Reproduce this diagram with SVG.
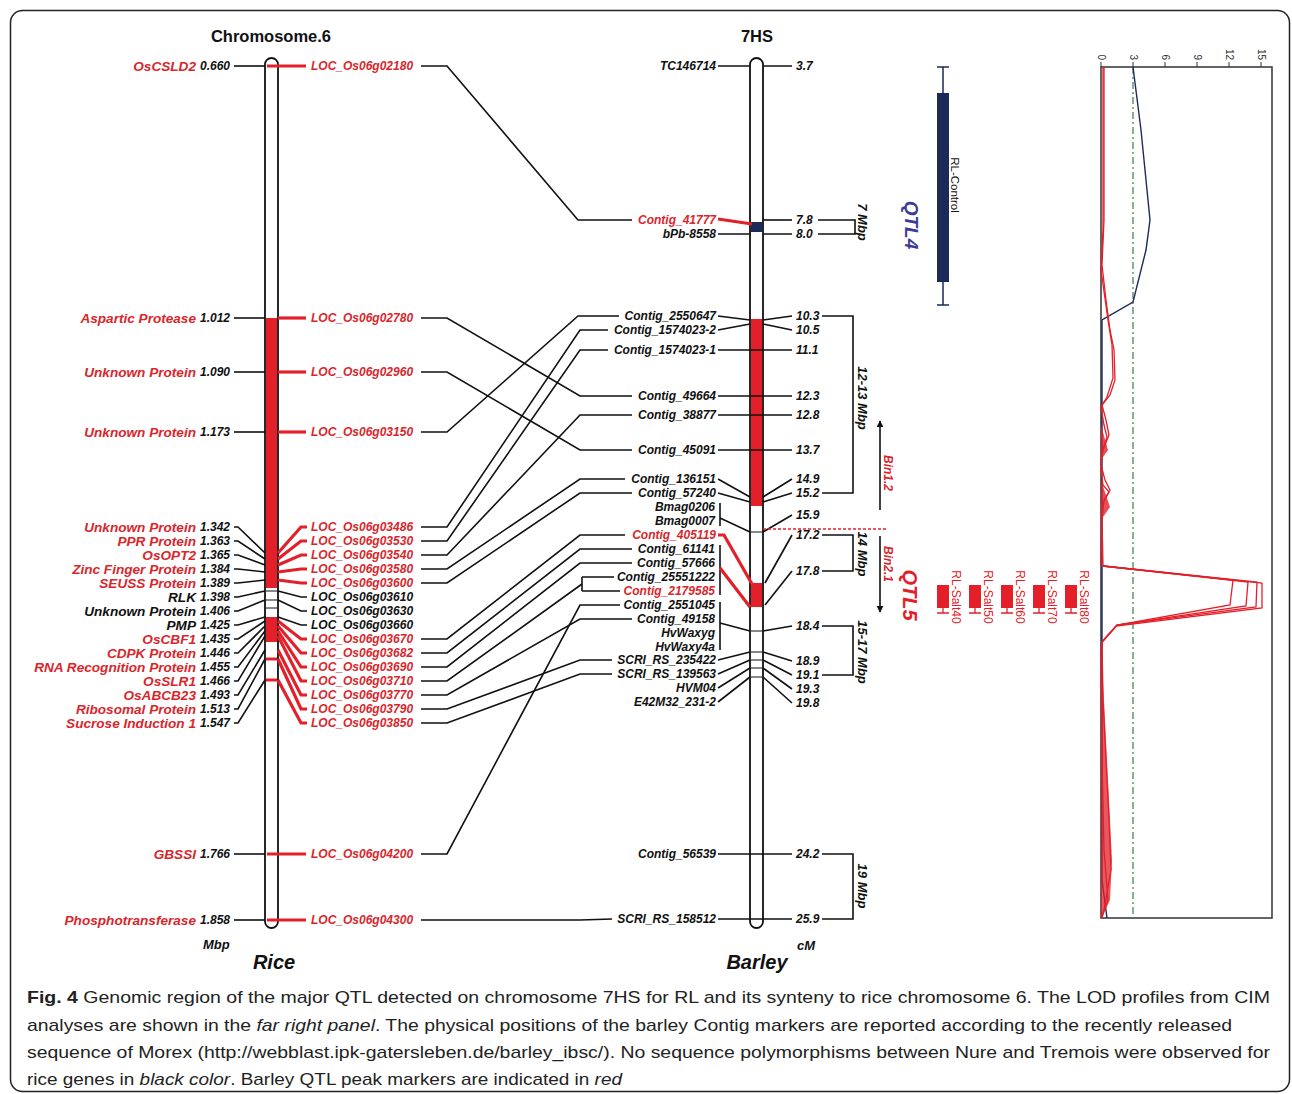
<svg xmlns="http://www.w3.org/2000/svg" width="1292" height="1094" viewBox="0 0 1292 1094">
<defs>
<style>
.t{font-family:'Liberation Sans',Arial,sans-serif;font-weight:bold;font-style:italic}
.g{font-size:13.6px}
.n{font-size:12px;fill:#111}
.lc{font-size:12px}
.r{fill:#d9262c}
.k{fill:#111}
.ln{stroke:#111;stroke-width:1.6;fill:none}
.rl{stroke:#e3202a;stroke-width:3.2;fill:none}
.rt{stroke:#e3202a;stroke-width:1.3;fill:none}
.chr{fill:#fff;stroke:#111;stroke-width:1.8}
.cap{font-family:'Liberation Sans',Arial,sans-serif;font-size:17px;fill:#222}
</style>
<marker id="ah" viewBox="0 0 10 10" refX="9" refY="5" markerWidth="7" markerHeight="9" orient="auto" markerUnits="userSpaceOnUse"><path d="M0,0 L10,5 L0,10 Z" fill="#111"/></marker>
</defs>
<rect x="0" y="0" width="1292" height="1094" fill="#fff"/>
<rect x="10.5" y="10.5" width="1279" height="1081" rx="12" fill="#fff" stroke="#222" stroke-width="1.5"/>

<g id="titles" class="t">
<text x="271" y="42" text-anchor="middle" style="font-style:normal;font-size:16.5px" class="k">Chromosome.6</text>
<text x="757" y="42" text-anchor="middle" style="font-style:normal;font-size:16.5px" class="k">7HS</text>
<text x="203" y="949" style="font-size:13px" class="k">Mbp</text>
<text x="274" y="969" text-anchor="middle" style="font-size:20px" class="k">Rice</text>
<text x="757" y="969" text-anchor="middle" style="font-size:20px" class="k">Barley</text>
<text x="797" y="950" style="font-size:13px" class="k">cM</text>
</g>

<!-- Rice chromosome -->
<g id="rice-chromosome">
<rect class="chr" x="265" y="58" width="13" height="870" rx="6.5"/>
<rect x="266" y="318" width="11" height="270" fill="#e3202a"/>
<rect x="266" y="617" width="11" height="25" fill="#e3202a"/>
<line x1="266" y1="659" x2="277" y2="659" stroke="#e3202a" stroke-width="3"/>
<line x1="266" y1="680" x2="277" y2="680" stroke="#e3202a" stroke-width="3"/>
<line x1="266" y1="591" x2="277" y2="591" stroke="#111" stroke-width="1"/>
<line x1="266" y1="600" x2="277" y2="600" stroke="#111" stroke-width="1"/>
<line x1="266" y1="608" x2="277" y2="608" stroke="#111" stroke-width="1"/>
</g>

<!-- Barley chromosome -->
<g id="barley-chromosome">
<rect class="chr" x="750" y="58" width="13" height="870" rx="6.5"/>
<rect x="751" y="222" width="11" height="10" fill="#1c2a5a"/>
<rect x="751" y="319" width="11" height="187" fill="#e3202a"/>
<rect x="751" y="583" width="11" height="24" fill="#e3202a"/>
<g stroke="#111" stroke-width="1">
<line x1="751" y1="532" x2="762" y2="532"/>
<line x1="751" y1="631" x2="762" y2="631"/>
<line x1="751" y1="652" x2="762" y2="652"/>
<line x1="751" y1="660" x2="762" y2="660"/>
<line x1="751" y1="668" x2="762" y2="668"/>
<line x1="751" y1="677" x2="762" y2="677"/>
</g>
</g>

<!-- Rice labels -->
<g id="rice-labels" class="t">
<g class="g r" text-anchor="end">
<text x="196" y="71">OsCSLD2</text>
<text x="196" y="323">Aspartic Protease</text>
<text x="196" y="377">Unknown Protein</text>
<text x="196" y="437">Unknown Protein</text>
<text x="196" y="532">Unknown Protein</text>
<text x="196" y="546">PPR Protein</text>
<text x="196" y="560">OsOPT2</text>
<text x="196" y="574">Zinc Finger Protein</text>
<text x="196" y="588">SEUSS Protein</text>
<text x="196" y="602" class="k">RLK</text>
<text x="196" y="616" class="k">Unknown Protein</text>
<text x="196" y="630" class="k">PMP</text>
<text x="196" y="644">OsCBF1</text>
<text x="196" y="658">CDPK Protein</text>
<text x="196" y="672">RNA Recognition Protein</text>
<text x="196" y="686">OsSLR1</text>
<text x="196" y="700">OsABCB23</text>
<text x="196" y="713.5">Ribosomal Protein</text>
<text x="196" y="728">Sucrose Induction 1</text>
<text x="196" y="859">GBSSI</text>
<text x="196" y="925">Phosphotransferase</text>
</g>
<g class="n">
<text x="200" y="70">0.660</text>
<text x="200" y="322">1.012</text>
<text x="200" y="376">1.090</text>
<text x="200" y="436">1.173</text>
<text x="200" y="531">1.342</text>
<text x="200" y="545">1.363</text>
<text x="200" y="559">1.365</text>
<text x="200" y="573">1.384</text>
<text x="200" y="587">1.389</text>
<text x="200" y="601">1.398</text>
<text x="200" y="615">1.406</text>
<text x="200" y="629">1.425</text>
<text x="200" y="643">1.435</text>
<text x="200" y="657">1.446</text>
<text x="200" y="671">1.455</text>
<text x="200" y="685">1.466</text>
<text x="200" y="699">1.493</text>
<text x="200" y="713">1.513</text>
<text x="200" y="727">1.547</text>
<text x="200" y="858">1.766</text>
<text x="200" y="924">1.858</text>
</g>
<g class="lc r">
<text x="311" y="70">LOC_Os06g02180</text>
<text x="311" y="322">LOC_Os06g02780</text>
<text x="311" y="376">LOC_Os06g02960</text>
<text x="311" y="436">LOC_Os06g03150</text>
<text x="311" y="531">LOC_Os06g03486</text>
<text x="311" y="545">LOC_Os06g03530</text>
<text x="311" y="559">LOC_Os06g03540</text>
<text x="311" y="573">LOC_Os06g03580</text>
<text x="311" y="587">LOC_Os06g03600</text>
<text x="311" y="601" class="k">LOC_Os06g03610</text>
<text x="311" y="615" class="k">LOC_Os06g03630</text>
<text x="311" y="629" class="k">LOC_Os06g03660</text>
<text x="311" y="643">LOC_Os06g03670</text>
<text x="311" y="657">LOC_Os06g03682</text>
<text x="311" y="671">LOC_Os06g03690</text>
<text x="311" y="685">LOC_Os06g03710</text>
<text x="311" y="699">LOC_Os06g03770</text>
<text x="311" y="713">LOC_Os06g03790</text>
<text x="311" y="727">LOC_Os06g03850</text>
<text x="311" y="858">LOC_Os06g04200</text>
<text x="311" y="924">LOC_Os06g04300</text>
</g>
</g>

<!-- Barley labels -->
<g id="barley-labels" class="t">
<g class="n" text-anchor="end">
<text x="716" y="70">TC146714</text>
<text x="716" y="224" class="r">Contig_41777</text>
<text x="716" y="238">bPb-8558</text>
<text x="716" y="320">Contig_2550647</text>
<text x="716" y="334">Contig_1574023-2</text>
<text x="716" y="354">Contig_1574023-1</text>
<text x="716" y="400">Contig_49664</text>
<text x="716" y="419">Contig_38877</text>
<text x="716" y="454">Contig_45091</text>
<text x="716" y="483">Contig_136151</text>
<text x="716" y="497">Contig_57240</text>
<text x="715" y="511">Bmag0206</text>
<text x="715" y="525">Bmag0007</text>
<text x="716" y="539" class="r">Contig_405119</text>
<text x="715" y="553">Contig_61141</text>
<text x="715" y="567">Contig_57666</text>
<text x="715" y="581">Contig_25551222</text>
<text x="715" y="595" class="r">Contig_2179585</text>
<text x="715" y="609">Contig_2551045</text>
<text x="715" y="623">Contig_49158</text>
<text x="715" y="637">HvWaxyg</text>
<text x="715" y="651">HvWaxy4a</text>
<text x="716" y="664">SCRI_RS_235422</text>
<text x="716" y="678">SCRI_RS_139563</text>
<text x="716" y="692">HVM04</text>
<text x="716" y="706">E42M32_231-2</text>
<text x="716" y="858">Contig_56539</text>
<text x="716" y="923">SCRI_RS_158512</text>
</g>
<g class="n">
<text x="796" y="70">3.7</text>
<text x="796" y="224">7.8</text>
<text x="796" y="238">8.0</text>
<text x="796" y="320">10.3</text>
<text x="796" y="334">10.5</text>
<text x="796" y="354">11.1</text>
<text x="796" y="400">12.3</text>
<text x="796" y="419">12.8</text>
<text x="796" y="454">13.7</text>
<text x="796" y="483">14.9</text>
<text x="796" y="497">15.2</text>
<text x="796" y="519">15.9</text>
<text x="796" y="539">17.2</text>
<text x="796" y="575">17.8</text>
<text x="796" y="630">18.4</text>
<text x="796" y="665">18.9</text>
<text x="796" y="679">19.1</text>
<text x="796" y="693">19.3</text>
<text x="796" y="707">19.8</text>
<text x="796" y="858">24.2</text>
<text x="796" y="923">25.9</text>
</g>
<g style="font-size:13px" class="k" text-anchor="middle">
<text transform="translate(858,222) rotate(90)">7 Mbp</text>
<text transform="translate(858,398) rotate(90)">12-13 Mbp</text>
<text transform="translate(858,554) rotate(90)">14 Mbp</text>
<text transform="translate(858,652) rotate(90)">15-17 Mbp</text>
<text transform="translate(858,886) rotate(90)">19 Mbp</text>
</g>
</g>

<!-- Connectors -->
<g id="connectors">
<!-- rice left ticks -->
<g class="ln">
<path d="M234,66H265"/><path d="M234,318H265"/><path d="M234,372H265"/><path d="M234,432H265"/>
<path d="M234,527H238L265,553"/><path d="M234,541H238L265,559"/><path d="M234,555H238L265,565"/><path d="M234,569H238L265,572"/><path d="M234,583H238L265,580"/>
<path d="M234,597H238L265,591"/><path d="M234,611H238L265,600"/><path d="M234,625H238L265,617"/><path d="M234,639H238L265,621"/><path d="M234,653H238L265,626"/>
<path d="M234,667H238L265,631"/><path d="M234,681H238L265,636"/><path d="M234,695H238L265,650"/><path d="M234,709H238L265,659"/><path d="M234,723H238L265,680"/>
<path d="M234,854H265"/><path d="M234,920H265"/>
</g>
<!-- rice right ticks -->
<g class="rl">
<path d="M267,66H306"/><path d="M278,318H306"/><path d="M278,372H306"/><path d="M278,432H306"/>
<path d="M278,553L301,527H307"/><path d="M278,559L301,541H307"/><path d="M278,565L301,555H307"/><path d="M278,572L301,569H307"/><path d="M278,580L301,583H307"/>
<path d="M278,621L301,639H307"/><path d="M278,626L301,653H307"/><path d="M278,631L301,667H307"/><path d="M278,636L301,681H307"/><path d="M278,650L301,695H307"/><path d="M278,659L301,709H307"/><path d="M278,680L301,723H307"/>
<path d="M267,854H306"/><path d="M267,920H306"/>
</g>
<g class="ln">
<path d="M278,591L301,597H307"/><path d="M278,600L301,611H307"/><path d="M278,617L301,625H307"/>
</g>
<!-- rice to barley -->
<g class="ln">
<path d="M421,66H447L578,220H632"/>
<path d="M421,318H447L580,396H632"/>
<path d="M421,372H447L580,450H632"/>
<path d="M421,432H447L578,316H619"/>
<path d="M421,527H447L580,330H608"/>
<path d="M421,541H447L580,350H608"/>
<path d="M421,555H447L580,415H632"/>
<path d="M421,569H447L580,479H625"/>
<path d="M421,583H447L580,493H632"/>
<path d="M421,639H447L580,535H625"/>
<path d="M421,653H447L580,549H632"/>
<path d="M421,667H447L580,563H632"/>
<path d="M421,681H447L582,584"/>
<path d="M582,577V591M582,577H614M582,591H620"/>
<path d="M421,695H447L580,619H632"/>
<path d="M421,709H447L580,660H612"/>
<path d="M421,723H447L580,674H612"/>
<path d="M421,854H447L580,605H620"/>
<path d="M421,920H580L612,919"/>
</g>
<!-- barley ticks -->
<g class="ln">
<path d="M718,66H750M763,66H792"/>
<path d="M718,234H750M763,234H792"/>
<path d="M763,220H792"/>
<path d="M718,316L750,320M763,320L792,316"/>
<path d="M718,330L750,324M763,324L792,330"/>
<path d="M718,350H792"/><path d="M718,396H792"/><path d="M718,415H792"/><path d="M718,450H792"/>
<path d="M718,479L750,497M763,497L792,479"/>
<path d="M718,493L750,502M763,502L792,493"/>
<path d="M720,503V526M720,518L750,532M763,532L792,515"/>
<path d="M720,545V595"/>
<path d="M792,535L765,583"/><path d="M792,571L765,605"/>
<path d="M720,602V650M720,623L750,631M763,631L792,626"/>
<path d="M718,660L750,652M763,652L792,661"/>
<path d="M718,674L750,660M763,660L792,675"/>
<path d="M718,688L750,668M763,668L792,689"/>
<path d="M718,702L750,677M763,677L792,703"/>
<path d="M718,854H792"/><path d="M718,919H792"/>
<!-- brackets -->
<path d="M818,220H855V234H818"/>
<path d="M822,316H853V493H822"/>
<path d="M822,535H853V571H822"/>
<path d="M822,626H853V675H822"/>
<path d="M822,854H853V919H822"/>
</g>
<g class="rl">
<path d="M718,219L752,224"/>
<path d="M718,535H724L752,584"/>
<path d="M720,568L750,607"/>
</g>
<path d="M763,529H888" stroke="#e3202a" stroke-width="1.5" stroke-dasharray="3 2" fill="none"/>
<!-- bin arrows -->
<path d="M880,510V421" stroke="#111" stroke-width="1.6" marker-end="url(#ah)"/>
<path d="M880,536V612" stroke="#111" stroke-width="1.6" marker-end="url(#ah)"/>
</g>

<g id="bins" class="t r" style="font-size:12px" text-anchor="middle">
<text transform="translate(884,473) rotate(90)">Bin1.2</text>
<text transform="translate(884,564) rotate(90)">Bin2.1</text>
</g>

<!-- QTL4 -->
<g id="qtl4">
<path d="M943,67V305M937,67H949M937,305H949" stroke="#1c2a5a" stroke-width="1.5" fill="none"/>
<rect x="937" y="93" width="12" height="189" fill="#1c2a5a"/>
<text transform="translate(951,185) rotate(90)" text-anchor="middle" style="font-family:'Liberation Sans',Arial,sans-serif;font-size:11.5px" fill="#111">RL-Control</text>
<text class="t" transform="translate(905,225) rotate(90)" text-anchor="middle" style="font-size:19px" fill="#3b3b96">QTL4</text>
</g>

<!-- QTL5 -->
<g id="qtl5">
<text class="t" transform="translate(903,595) rotate(90)" text-anchor="middle" style="font-size:20px" fill="#e3202a">QTL5</text>
<g fill="#e3202a" stroke="#e3202a">
<rect x="937" y="585" width="12" height="23" stroke="none"/><path d="M943,608V613M937,613H949" stroke-width="1.3" fill="none"/>
<rect x="969" y="585" width="12" height="23" stroke="none"/><path d="M975,608V613M969,613H981" stroke-width="1.3" fill="none"/>
<rect x="1001" y="585" width="12" height="23" stroke="none"/><path d="M1007,608V613M1001,613H1013" stroke-width="1.3" fill="none"/>
<rect x="1033" y="585" width="12" height="23" stroke="none"/><path d="M1039,608V613M1033,613H1045" stroke-width="1.3" fill="none"/>
<rect x="1065" y="585" width="12" height="23" stroke="none"/><path d="M1071,608V613M1065,613H1077" stroke-width="1.3" fill="none"/>
</g>
<g style="font-family:'Liberation Sans',Arial,sans-serif;font-size:12px" fill="#e3202a" text-anchor="middle">
<text transform="translate(952,597) rotate(90)">RL-Salt40</text>
<text transform="translate(984,597) rotate(90)">RL-Salt50</text>
<text transform="translate(1016,597) rotate(90)">RL-Salt60</text>
<text transform="translate(1048,597) rotate(90)">RL-Salt70</text>
<text transform="translate(1080,597) rotate(90)">RL-Salt80</text>
</g>
</g>

<!-- LOD panel -->
<g id="lod-panel">
<rect x="1101" y="67" width="171" height="851" fill="#fff" stroke="#333" stroke-width="1.5"/>
<g stroke="#333" stroke-width="1">
<path d="M1101,62V67M1133,62V67M1165,62V67M1197,62V67M1229,62V67M1261,62V67"/>
</g>
<g style="font-family:'Liberation Sans',Arial,sans-serif;font-size:10px" fill="#333" text-anchor="end">
<text transform="translate(1097.5,60) rotate(90)">0</text>
<text transform="translate(1129.5,60) rotate(90)">3</text>
<text transform="translate(1161.5,60) rotate(90)">6</text>
<text transform="translate(1193.5,60) rotate(90)">9</text>
<text transform="translate(1225.5,60) rotate(90)">12</text>
<text transform="translate(1257.5,60) rotate(90)">15</text>
</g>
<path d="M1133,67V918" stroke="#3a7d4c" stroke-width="1.2" stroke-dasharray="7 3 2 3" fill="none"/>
<path d="M1133,67L1141,130L1150,220L1146,250L1133,302L1102,320V880L1107,918" stroke="#1c2a5a" stroke-width="1.4" fill="none"/>
<g class="rt">
<path d="M1104,67L1104,220L1102,265L1106,300L1110,330L1114,350L1115,380L1110,395L1102,405L1106,420L1109,435L1103,450L1101,465L1105,480L1110,490L1104,500L1102,520L1103,566"/>
<path d="M1103,67L1103,230L1101,270L1108,320L1112,345L1113,378L1107,397L1101,407L1104,425L1107,437L1102,452L1101,470L1103,485L1109,492L1102,505L1101,566"/>
<path d="M1103,566L1233,580L1230,605L1117,625L1102,642"/>
<path d="M1103,566L1248,582L1246,606L1117,625L1102,642"/>
<path d="M1103,566L1257,582L1256,607L1117,625L1102,642"/>
<path d="M1103,566L1262,583L1262,608L1116,626L1102,642"/>
<path d="M1102,642L1103,700L1106,760L1109,820L1111,870L1104,910L1102,918"/>
<path d="M1101,645L1102,760L1104,850L1108,900L1101,918"/>
</g>
<path d="M1101,645L1104,700L1108,780L1112,860L1110,900L1102,918L1101,918Z" fill="#e3202a" fill-opacity="0.75"/>
<path d="M1101,425L1108,450L1101,460Z M1101,480L1110,507L1101,520Z" fill="#e3202a" fill-opacity="0.8"/>
</g>

<!-- Caption -->
<g id="caption" class="cap">
<text x="27" y="1003" textLength="1243" lengthAdjust="spacingAndGlyphs"><tspan font-weight="bold">Fig. 4</tspan> Genomic region of the major QTL detected on chromosome 7HS for RL and its synteny to rice chromosome 6. The LOD profiles from CIM</text>
<text x="27" y="1031" textLength="1205" lengthAdjust="spacingAndGlyphs">analyses are shown in the <tspan font-style="italic">far right panel</tspan>. The physical positions of the barley Contig markers are reported according to the recently released</text>
<text x="27" y="1058" textLength="1243" lengthAdjust="spacingAndGlyphs">sequence of Morex (http://webblast.ipk-gatersleben.de/barley_ibsc/). No sequence polymorphisms between Nure and Tremois were observed for</text>
<text x="27" y="1085" textLength="595" lengthAdjust="spacingAndGlyphs">rice genes in <tspan font-style="italic">black color</tspan>. Barley QTL peak markers are indicated in <tspan font-style="italic">red</tspan></text>
</g>
</svg>
